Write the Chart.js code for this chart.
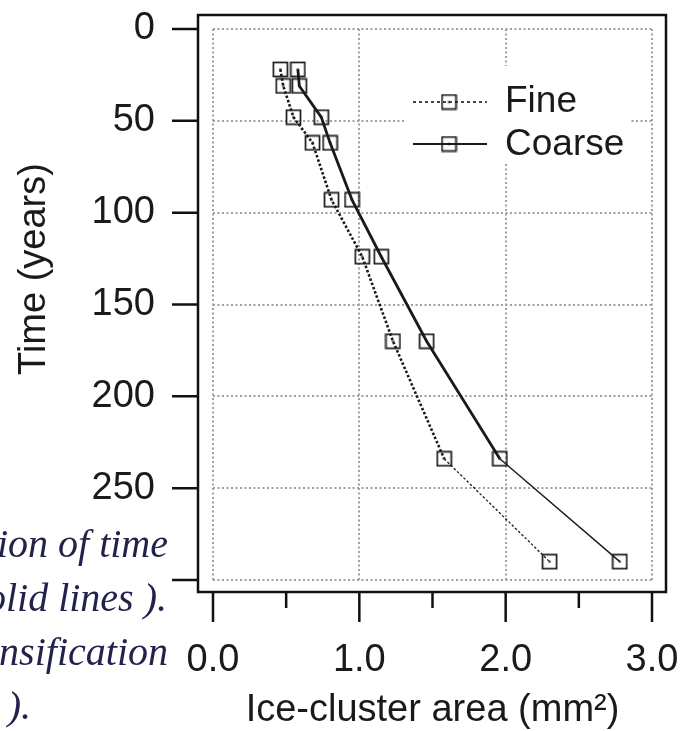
<!DOCTYPE html>
<html>
<head>
    <title>Ice-cluster area vs time</title>
    <script type="text/javascript" src="https://cdn.jsdelivr.net/npm/chart.js@4.4.1/dist/chart.umd.min.js"></script>
    <style>
        html, body { margin: 0; padding: 0; background: #fff; overflow: hidden; }
        #wrap { position: relative; width: 683px; height: 731px; }
        #myChart { position: absolute; left: 0; top: 0; }
        .cap {
            position: absolute;
            font-family: 'Liberation Serif', 'DejaVu Serif', serif;
            font-style: italic;
            font-size: 40px;
            line-height: 40px;
            color: #22224a;
            white-space: nowrap;
        }
    </style>
</head>
<body>
<div id="wrap">
    <canvas id="myChart" width="683" height="731"></canvas>
    <div class="cap" style="top:524px; right:515px">ion of time</div>
    <div class="cap" style="top:578px; right:516px">olid lines ).</div>
    <div class="cap" style="top:632px; right:515px">nsification</div>
    <div class="cap" style="top:686px; right:652px">a ).</div>
</div>
<script>
    // values
    var timeYears = [22, 31, 48, 62, 93, 124, 170, 234, 290];
    var fineArea = [0.46, 0.48, 0.55, 0.68, 0.81, 1.02, 1.23, 1.58, 2.30];
    var coarseArea = [0.58, 0.59, 0.74, 0.80, 0.95, 1.15, 1.46, 1.96, 2.78];

    var xTicks = [0, 0.5, 1, 1.5, 2, 2.5, 3];
    var xTickLabels = ['0.0', '', '1.0', '', '2.0', '', '3.0'];
    var yTicks = [0, 50, 100, 150, 200, 250, 300];
    var yTickLabels = ['0', '50', '100', '150', '200', '250', ''];

    var sans = "'Liberation Sans', Arial, Helvetica, sans-serif";
    var ink = '#1a1a1a';
    var gridGray = '#a0a0a0';

    // open square with a dot in the middle
    function makeMarker() {
        var c = document.createElement('canvas');
        c.width = 17; c.height = 17;
        var g = c.getContext('2d');
        g.strokeStyle = '#1a1a1a';
        g.lineWidth = 1.7;
        g.strokeRect(1.5, 1.5, 14, 14);
        g.fillStyle = '#1a1a1a';
        g.fillRect(7.5, 7.5, 2, 2);
        return c;
    }
    var marker = makeMarker();

    function pts(xs) {
        return timeYears.map(function (t, i) { return { x: xs[i], y: t }; });
    }
    var last = timeYears.length - 1;

    var framePlugin = {
        id: 'frame',
        afterDatasetsDraw: function (chart) {
            var ctx = chart.ctx;
            // legend inside the plot
            ctx.save();
            ctx.fillStyle = '#fff';
            ctx.fillRect(404, 66, 226, 97);
            ctx.strokeStyle = ink;
            ctx.lineWidth = 1.6;
            ctx.setLineDash([3, 3]);
            ctx.beginPath(); ctx.moveTo(413, 102); ctx.lineTo(487, 102); ctx.stroke();
            ctx.setLineDash([]);
            ctx.lineWidth = 2;
            ctx.beginPath(); ctx.moveTo(413, 144); ctx.lineTo(487, 144); ctx.stroke();
            ctx.drawImage(marker, 449 - 8.5, 102 - 8.5);
            ctx.drawImage(marker, 449 - 8.5, 144 - 8.5);
            ctx.fillStyle = ink;
            ctx.font = '37px ' + sans;
            ctx.textBaseline = 'alphabetic';
            ctx.fillText('Fine', 505, 112);
            ctx.fillText('Coarse', 505, 155);
            ctx.restore();
        },
        afterDraw: function (chart) {
            var ctx = chart.ctx, ca = chart.chartArea;
            var xs = chart.scales.x, ys = chart.scales.y;
            var bl = ca.left - 15, bt = ca.top - 14, br = ca.right + 14, bb = ca.bottom + 12;
            ctx.save();
            ctx.strokeStyle = '#111';
            ctx.lineWidth = 2.5;
            ctx.strokeRect(bl, bt, br - bl, bb - bt);
            ctx.beginPath();
            yTicks.forEach(function (v) {
                var py = ys.getPixelForValue(v);
                ctx.moveTo(bl - 26, py); ctx.lineTo(bl, py);
            });
            xTicks.forEach(function (v, i) {
                var px = xs.getPixelForValue(v);
                ctx.moveTo(px, bb); ctx.lineTo(px, bb + (xTickLabels[i] ? 30 : 16));
            });
            ctx.stroke();

            // y axis title
            ctx.translate(45, 269);
            ctx.rotate(-Math.PI / 2);
            ctx.fillStyle = ink;
            ctx.font = '38px ' + sans;
            ctx.textAlign = 'center';
            ctx.textBaseline = 'alphabetic';
            ctx.fillText('Time (years)', 0, 0);
            ctx.restore();
        }
    };

    var ctx = document.getElementById('myChart').getContext('2d');

    var myChart = new Chart(ctx, {
        type: 'scatter',
        data: {
            datasets: [{
                label: 'Fine',
                data: pts(fineArea),
                showLine: true,
                borderColor: ink,
                borderWidth: 2.6,
                borderDash: [2.5, 2],
                segment: {
                    borderWidth: function (c) { return c.p1DataIndex === last ? 1.3 : 2.6; }
                },
                pointStyle: marker,
                pointRadius: 9,
                pointBackgroundColor: 'rgba(0,0,0,0)'
            }, {
                label: 'Coarse',
                data: pts(coarseArea),
                showLine: true,
                borderColor: ink,
                borderWidth: 2.8,
                segment: {
                    borderWidth: function (c) { return c.p1DataIndex === last ? 1.4 : 2.8; }
                },
                pointStyle: marker,
                pointRadius: 9,
                pointBackgroundColor: 'rgba(0,0,0,0)'
            }]
        },
        options: {
            responsive: false,
            animation: false,
            layout: { padding: { left: 0, top: 29, right: 31, bottom: 0 } },
            plugins: {
                legend: { display: false },
                tooltip: { enabled: false }
            },
            scales: {
                x: {
                    type: 'linear',
                    position: 'bottom',
                    min: 0,
                    max: 3,
                    afterBuildTicks: function (s) { s.ticks = xTicks.map(function (v) { return { value: v }; }); },
                    afterFit: function (s) { s.height = 151; },
                    ticks: {
                        autoSkip: false,
                        maxRotation: 0,
                        padding: 2,
                        color: ink,
                        font: { family: sans, size: 38 },
                        callback: function (v, i) { return xTickLabels[i]; }
                    },
                    grid: {
                        drawTicks: true,
                        tickLength: 56,
                        tickColor: 'rgba(0,0,0,0)',
                        lineWidth: 2,
                        color: function (c) {
                            return (c.tick && c.tick.value % 1 === 0) ? gridGray : 'rgba(0,0,0,0)';
                        }
                    },
                    border: { display: false, dash: [2, 2.5] },
                    title: {
                        display: true,
                        text: 'Ice-cluster area (mm²)',
                        color: ink,
                        font: { family: sans, size: 38, lineHeight: 1 },
                        padding: { top: 0, bottom: 1 }
                    }
                },
                y: {
                    type: 'linear',
                    reverse: true,
                    min: 0,
                    max: 300,
                    afterBuildTicks: function (s) { s.ticks = yTicks.map(function (v) { return { value: v }; }); },
                    afterFit: function (s) { s.width = 213; },
                    ticks: {
                        padding: 2,
                        color: ink,
                        font: { family: sans, size: 38 },
                        callback: function (v, i) { return yTickLabels[i]; }
                    },
                    grid: {
                        drawTicks: true,
                        tickLength: 56,
                        tickColor: 'rgba(0,0,0,0)',
                        lineWidth: 2,
                        color: gridGray
                    },
                    border: { display: false, dash: [2, 2.5] }
                }
            }
        },
        plugins: [framePlugin]
    });
</script>
</body>
</html>
